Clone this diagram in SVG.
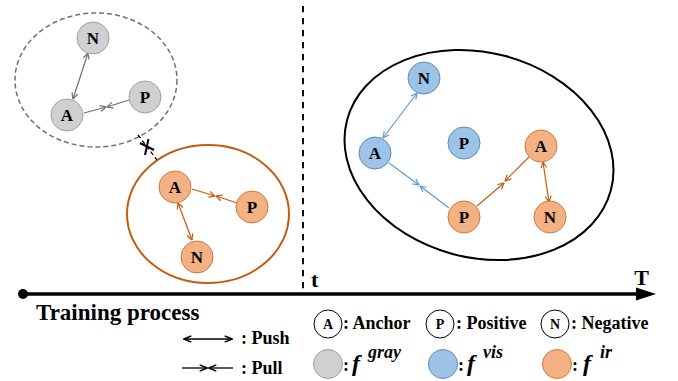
<svg xmlns="http://www.w3.org/2000/svg" width="678" height="381" viewBox="0 0 678 381">
<defs>
<style>
.lbl{font-family:"Liberation Serif","Times New Roman",serif;font-weight:bold;font-size:17px;text-anchor:middle;fill:#000}
.leg{font-family:"Liberation Serif","Times New Roman",serif;font-weight:bold;font-size:18px;fill:#000}
.fi{font-family:"Liberation Serif","Times New Roman",serif;font-weight:bold;font-style:italic;fill:#000}
.gray{fill:#d0d0d0;stroke:#a0a0a0;stroke-width:1}
.blue{fill:#9dc3e6;stroke:#5a8cc0;stroke-width:1}
.orng{fill:#f4b183;stroke:#d07a3e;stroke-width:1}
.wht{fill:#fff;stroke:#000;stroke-width:1}
.cg{stroke:#707070;stroke-width:1.2;fill:none}
.cb{stroke:#5b9bd5;stroke-width:1.2;fill:none}
.co{stroke:#c55a11;stroke-width:1.2;fill:none}
.ck{stroke:#000;stroke-width:1.3;fill:none}
</style>
<marker id="mg" viewBox="0 0 8 8" refX="7.5" refY="4" markerWidth="8" markerHeight="8" orient="auto-start-reverse" markerUnits="userSpaceOnUse"><path d="M1.5,1 L7.5,4 L1.5,7" fill="none" stroke="#707070" stroke-width="1.2"/></marker>
<marker id="mb" viewBox="0 0 8 8" refX="7.5" refY="4" markerWidth="8" markerHeight="8" orient="auto-start-reverse" markerUnits="userSpaceOnUse"><path d="M1.5,1 L7.5,4 L1.5,7" fill="none" stroke="#5b9bd5" stroke-width="1.2"/></marker>
<marker id="mo" viewBox="0 0 8 8" refX="7.5" refY="4" markerWidth="8" markerHeight="8" orient="auto-start-reverse" markerUnits="userSpaceOnUse"><path d="M1.5,1 L7.5,4 L1.5,7" fill="none" stroke="#c55a11" stroke-width="1.2"/></marker>
<marker id="mk" viewBox="0 0 8 8" refX="7.5" refY="4" markerWidth="9" markerHeight="9" orient="auto-start-reverse" markerUnits="userSpaceOnUse"><path d="M1,1.2 L7.5,4 L1,6.8" fill="none" stroke="#000" stroke-width="1.4"/></marker>
</defs>
<rect width="678" height="381" fill="#fff"/>

<g id="groups">
<ellipse cx="96" cy="80" rx="81" ry="67" fill="none" stroke="#707070" stroke-width="1.5" stroke-dasharray="5 3"/>
<ellipse cx="208" cy="214" rx="81" ry="69" fill="none" stroke="#c55a11" stroke-width="2"/>
<ellipse cx="0" cy="0" rx="136.5" ry="102.4" transform="translate(479 155) rotate(15)" fill="none" stroke="#000" stroke-width="2"/>
</g>

<g id="connectors">
<line x1="138" y1="135" x2="157" y2="160" stroke="#000" stroke-width="1.3" stroke-dasharray="4 3"/>
<line x1="140" y1="143" x2="154" y2="150" stroke="#000" stroke-width="2"/>
<line x1="148.5" y1="139" x2="145" y2="155" stroke="#000" stroke-width="2"/>
<line class="cg" x1="88" y1="53" x2="73" y2="99" marker-start="url(#mg)" marker-end="url(#mg)"/>
<line class="cg" x1="84" y1="113" x2="106" y2="107" marker-end="url(#mg)"/>
<line class="cg" x1="129" y1="100" x2="107" y2="107" marker-end="url(#mg)"/>
<line class="co" x1="192" y1="189" x2="215" y2="196" marker-end="url(#mo)"/>
<line class="co" x1="237" y1="203" x2="216" y2="196" marker-end="url(#mo)"/>
<line class="co" x1="178" y1="203" x2="192" y2="240" marker-start="url(#mo)" marker-end="url(#mo)"/>
<line class="cb" x1="417" y1="93" x2="383" y2="138" marker-start="url(#mb)" marker-end="url(#mb)"/>
<line class="cb" x1="389" y1="163" x2="419" y2="185" marker-end="url(#mb)"/>
<line class="cb" x1="449" y1="208" x2="420" y2="186" marker-end="url(#mb)"/>
<line class="co" x1="477" y1="206" x2="504" y2="183" marker-end="url(#mo)"/>
<line class="co" x1="529" y1="157" x2="505" y2="181" marker-end="url(#mo)"/>
<line class="co" x1="543" y1="162" x2="549" y2="202" marker-start="url(#mo)" marker-end="url(#mo)"/>
</g>

<g id="gray-N"><circle class="gray" cx="93" cy="38" r="16"/><text class="lbl" x="93" y="44">N</text></g>
<g id="gray-A"><circle class="gray" cx="67" cy="115" r="16"/><text class="lbl" x="67" y="121">A</text></g>
<g id="gray-P"><circle class="gray" cx="145" cy="97" r="16"/><text class="lbl" x="145" y="103">P</text></g>

<g id="ir-A"><circle class="orng" cx="175" cy="187" r="16"/><text class="lbl" x="175" y="193">A</text></g>
<g id="ir-P"><circle class="orng" cx="252" cy="207" r="16"/><text class="lbl" x="252" y="213">P</text></g>
<g id="ir-N"><circle class="orng" cx="197" cy="257" r="16"/><text class="lbl" x="197" y="263">N</text></g>

<g id="vis-N"><circle class="blue" cx="424" cy="78" r="16"/><text class="lbl" x="424" y="84">N</text></g>
<g id="vis-A"><circle class="blue" cx="375" cy="153" r="16"/><text class="lbl" x="375" y="159">A</text></g>
<g id="vis-P"><circle class="blue" cx="464" cy="143" r="16"/><text class="lbl" x="464" y="149">P</text></g>
<g id="ir2-A"><circle class="orng" cx="541" cy="146" r="16"/><text class="lbl" x="541" y="152">A</text></g>
<g id="ir2-P"><circle class="orng" cx="464" cy="217" r="16"/><text class="lbl" x="464" y="223">P</text></g>
<g id="ir2-N"><circle class="orng" cx="550" cy="217" r="16"/><text class="lbl" x="550" y="223">N</text></g>

<g id="timeline">
<line x1="303" y1="6" x2="303" y2="291" stroke="#000" stroke-width="2" stroke-dasharray="6.3 5.7"/>
<line x1="23" y1="294" x2="640" y2="294" stroke="#000" stroke-width="3.5"/>
<circle cx="23" cy="294" r="5" fill="#000"/>
<path d="M636,287.5 L656,294 L636,300.5 Z" fill="#000"/>
<text class="leg" x="311" y="287" style="font-size:22px">t</text>
<text class="leg" x="641.5" y="285" style="font-size:22px" text-anchor="middle">T</text>
<text class="leg" x="36" y="320" style="font-size:23px">Training process</text>
</g>

<g id="legend">
<line class="ck" x1="184" y1="339" x2="232" y2="339" marker-start="url(#mk)" marker-end="url(#mk)"/>
<text class="leg" x="241" y="344">: Push</text>
<line class="ck" x1="182" y1="368" x2="207" y2="368" marker-end="url(#mk)"/>
<line class="ck" x1="233" y1="368" x2="209" y2="368" marker-end="url(#mk)"/>
<text class="leg" x="241" y="374">: Pull</text>

<circle class="wht" cx="328" cy="324" r="14"/><text class="lbl" x="328" y="329" style="font-size:14px">A</text>
<text class="leg" x="343" y="329">: Anchor</text>
<circle class="wht" cx="440" cy="324" r="14"/><text class="lbl" x="440" y="329" style="font-size:14px">P</text>
<text class="leg" x="456" y="329">: Positive</text>
<circle class="wht" cx="555" cy="324" r="14"/><text class="lbl" x="555" y="329" style="font-size:14px">N</text>
<text class="leg" x="571" y="329">: Negative</text>

<circle class="gray" cx="328" cy="364" r="14.5"/>
<text class="leg" x="343" y="371">:</text>
<text class="fi" x="352" y="371" style="font-size:24px">f</text>
<text class="fi" x="368" y="358" style="font-size:18px">gray</text>
<circle class="blue" cx="443" cy="364" r="14.5"/>
<text class="leg" x="458" y="371">:</text>
<text class="fi" x="467" y="371" style="font-size:24px">f</text>
<text class="fi" x="483" y="358" style="font-size:18px">vis</text>
<circle class="orng" cx="557" cy="364" r="14.5"/>
<text class="leg" x="572" y="371">:</text>
<text class="fi" x="583" y="371" style="font-size:24px">f</text>
<text class="fi" x="600" y="358" style="font-size:18px">ir</text>
</g>
</svg>
